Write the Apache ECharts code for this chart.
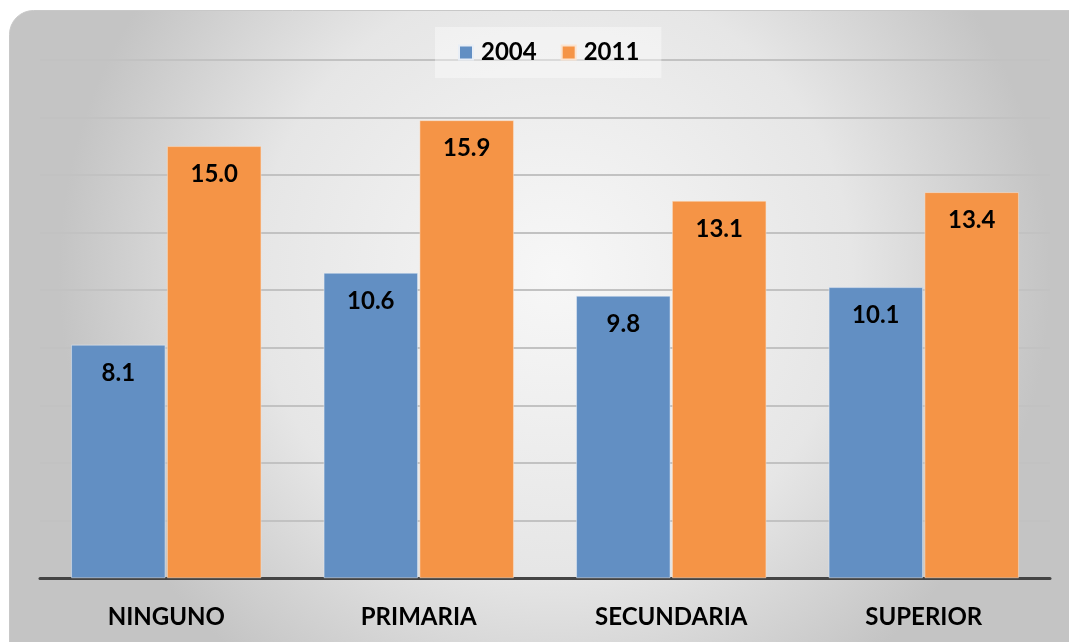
<!DOCTYPE html>
<html>
<head>
<meta charset="utf-8">
<script src="https://cdn.jsdelivr.net/npm/echarts@6/dist/echarts.min.js"></script>
<style>
  html, body { margin: 0; padding: 0; background: #fff; }
  #container { width: 1069px; height: 642px; }
</style>
</head>
<body>
<div id="container"></div>
<script>
/* data */
var categories = ['NINGUNO', 'PRIMARIA', 'SECUNDARIA', 'SUPERIOR'];
var seriesNames = ['2004', '2011'];
var values2004 = [8.1, 10.6, 9.8, 10.1];
var values2011 = [15.0, 15.9, 13.1, 13.4];
var colors = ['#628fc3', '#f59446'];

var dom = document.getElementById('container');
var myChart = echarts.init(dom);

var labelStyle = {
    show: true,
    position: 'insideTop',
    distance: 16,
    color: '#000',
    fontFamily: 'Lato',
    fontWeight: 'bold',
    fontSize: 24,
    formatter: function (p) { return p.value.toFixed(1); }
};

var option = {
    animation: false,
    graphic: [{
        type: 'rect',
        left: 9,
        top: 10,
        z: -10,
        shape: { width: 1090, height: 660, r: 24 },
        style: {
            fill: new echarts.graphic.RadialGradient(0.5, 0.4, 0.75, [
                { offset: 0, color: '#f7f7f7' },
                { offset: 0.6, color: '#e6e6e6' },
                { offset: 1, color: '#c4c4c4' }
            ]),
            stroke: '#c8c8c8',
            lineWidth: 1
        }
    }],
    legend: {
        data: seriesNames,
        top: 27,
        left: 435,
        icon: 'rect',
        itemWidth: 14,
        itemHeight: 14,
        itemGap: 24,
        padding: [12, 22, 12, 23],
        backgroundColor: 'rgba(255,255,255,0.4)',
        textStyle: {
            fontFamily: 'Lato',
            fontWeight: 'bold',
            fontSize: 24,
            lineHeight: 27,
            padding: [0, 0, 0, 3],
            color: '#000'
        }
    },
    grid: {
        left: 40,
        right: 19,
        top: 60,
        bottom: 64,
        containLabel: false
    },
    xAxis: {
        type: 'category',
        data: categories,
        axisTick: { show: false },
        axisLine: { lineStyle: { color: '#444', width: 3 } },
        axisLabel: {
            margin: 27,
            color: '#000',
            fontFamily: 'Lato',
            fontWeight: 'bold',
            fontSize: 24
        }
    },
    yAxis: {
        type: 'value',
        min: 0,
        max: 18,
        interval: 2,
        axisLabel: { show: false },
        axisLine: { show: false },
        axisTick: { show: false },
        splitLine: { lineStyle: { color: '#c2c2c2', width: 2 } }
    },
    series: [
        {
            name: seriesNames[0],
            type: 'bar',
            data: values2004,
            barWidth: 94,
            barGap: '2%',
            itemStyle: { color: colors[0], borderColor: '#e8eef6', borderWidth: 0.5 },
            label: labelStyle
        },
        {
            name: seriesNames[1],
            type: 'bar',
            data: values2011,
            barWidth: 94,
            itemStyle: { color: colors[1], borderColor: '#fbe3cf', borderWidth: 0.5 },
            label: labelStyle
        }
    ]
};

myChart.setOption(option);
</script>
</body>
</html>
